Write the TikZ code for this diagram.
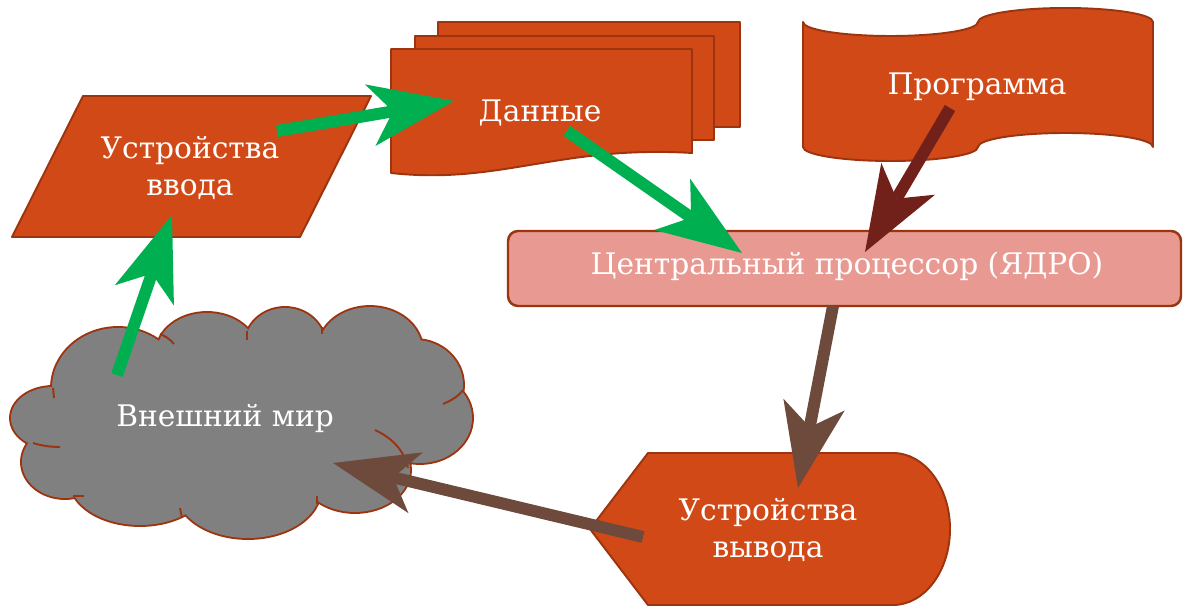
\documentclass[tikz,border=0pt]{standalone}
\usepackage{fontspec}
\setmainfont{DejaVu Serif}
\usetikzlibrary{arrows.meta}
\definecolor{shapeFill}{HTML}{D14917}
\definecolor{shapeLine}{HTML}{9C3410}
\definecolor{cpuFill}{HTML}{E89A92}
\definecolor{flowGreen}{HTML}{00B050}
\definecolor{progRed}{HTML}{72211A}
\definecolor{outBrown}{HTML}{6D4A3C}
\definecolor{worldGray}{HTML}{808080}

\begin{document}
\begin{tikzpicture}[x=0.02cm, y=-0.02cm,
  block/.style={fill=shapeFill, draw=shapeLine, line width=1.1pt, line join=round},
  cpubox/.style={fill=cpuFill, draw=shapeLine, line width=1.4pt, rounded corners=0.2cm},
  caption/.style={text=white, font=\fontsize{16.9}{21}\selectfont, align=center, inner sep=0pt},
  cloudline/.style={draw=shapeLine, line width=1.1pt},
  bigarrow/.style={line width=6.8pt,
    -{Stealth[length=1.7cm, width=1.25cm, inset=0.46cm, line width=0pt]}},
]
\useasboundingbox (0,0) rectangle (1183,607);

% ---- input devices (parallelogram)
\draw[block] (83,96) -- (371,96) -- (300,237) -- (12,237) -- cycle;
\node[caption] (inDev) at (190,168) {Устройства\\ввода};

% ---- data (stacked documents)
\draw[block] (438,22) rectangle (740,127);
\draw[block] (415,36) rectangle (714,140);
\draw[block] (391,49) -- (692,49) -- (692,153)
  .. controls (560,145) and (500,185) .. (391,173) -- cycle;
\node[caption] (data) at (540,113) {Данные};

% ---- program (punched tape)
\draw[block] (803,22)
  .. controls (803,29.7) and (842,36) .. (890.5,36)
  .. controls (939,36) and (978,29.7) .. (978,22)
  .. controls (978,14.3) and (1017,8) .. (1065.5,8)
  .. controls (1114,8) and (1153,14.3) .. (1153,22)
  -- (1153,147)
  .. controls (1153,139.3) and (1114,133) .. (1065.5,133)
  .. controls (1017,133) and (978,139.3) .. (978,147)
  .. controls (978,154.7) and (939,161) .. (890.5,161)
  .. controls (842,161) and (803,154.7) .. (803,147)
  -- cycle;
\node[caption] (prog) at (977,87) {Программа};

% ---- central processor
\draw[cpubox] (508,231) rectangle (1181,306);
\node[caption] (cpu) at (847,266) {Центральный процессор (ЯДРО)};

% ---- output devices (display)
\draw[block] (590,529) -- (648,453) -- (893,453)
  .. controls (924.5,453) and (950,487) .. (950,529)
  .. controls (950,571) and (924.5,605) .. (893,605)
  -- (648,605) -- cycle;
\node[caption] (outDev) at (768,530) {Устройства\\вывода};

% ---- outer world (cloud): stroked puffs, then filled over
\def\puffs{%
  (118,388) ellipse [x radius=66, y radius=60]
  (53,418) ellipse [x radius=42, y radius=31]
  (65,462) ellipse [x radius=43, y radius=36]
  (140,480) ellipse [x radius=70, y radius=45]
  (248,490) ellipse [x radius=72, y radius=48]
  (355,470) ellipse [x radius=55, y radius=42]
  (420,418) ellipse [x radius=52, y radius=45]
  (415,385) ellipse [x radius=48, y radius=45]
  (370,350) ellipse [x radius=52, y radius=43]
  (285,345) ellipse [x radius=40, y radius=37]
  (207,352) ellipse [x radius=50, y radius=39]}
\draw[shapeLine, line width=2.2pt] \puffs;
\fill[worldGray] \puffs;
\fill[worldGray] (60,400) -- (120,345) -- (200,345) -- (290,340) -- (370,345)
  -- (420,360) -- (440,420) -- (400,460) -- (320,490) -- (240,500)
  -- (140,490) -- (70,460) -- cycle;
\draw[cloudline] (375,430) .. controls (392,438) and (404,450) .. (408,468);
\draw[cloudline] (463,390) .. controls (458,397) and (450,401) .. (443,404);
\draw[cloudline] (160,334) .. controls (165,336) and (170,339) .. (174,344);
\draw[cloudline] (33,443) .. controls (42,446) and (52,447) .. (60,447);
\draw[cloudline] (73,496) -- (84,496);
\draw[cloudline] (247,331) -- (247,340);
\draw[cloudline] (322,327) -- (322,334);
\draw[cloudline] (182,518) -- (180,508);
\draw[cloudline] (317,504) -- (317,496);
\draw[cloudline] (53,388) -- (54,398);
\node[caption] (world) at (225,419) {Внешний мир};

% ---- arrow end points
\coordinate (inTail) at (277,131);   \coordinate (inHead) at (454,101);
\coordinate (dataTail) at (567,131); \coordinate (dataHead) at (742,253);
\coordinate (worldTail) at (117,375);\coordinate (worldHead) at (172,215);
\coordinate (progTail) at (950,108); \coordinate (progHead) at (865,252);
\coordinate (cpuTail) at (833,306);  \coordinate (cpuHead) at (798,488);
\coordinate (outTail) at (643,537);  \coordinate (outHead) at (333,463);

% ---- connectors
\draw[bigarrow, flowGreen] (inTail) -- (inHead);
\draw[bigarrow, flowGreen] (dataTail) -- (dataHead);
\draw[bigarrow, flowGreen] (worldTail) -- (worldHead);
\draw[bigarrow, progRed] (progTail) -- (progHead);
\draw[bigarrow, outBrown] (cpuTail) -- (cpuHead);
\draw[bigarrow, outBrown] (outTail) -- (outHead);
\end{tikzpicture}
\end{document}
